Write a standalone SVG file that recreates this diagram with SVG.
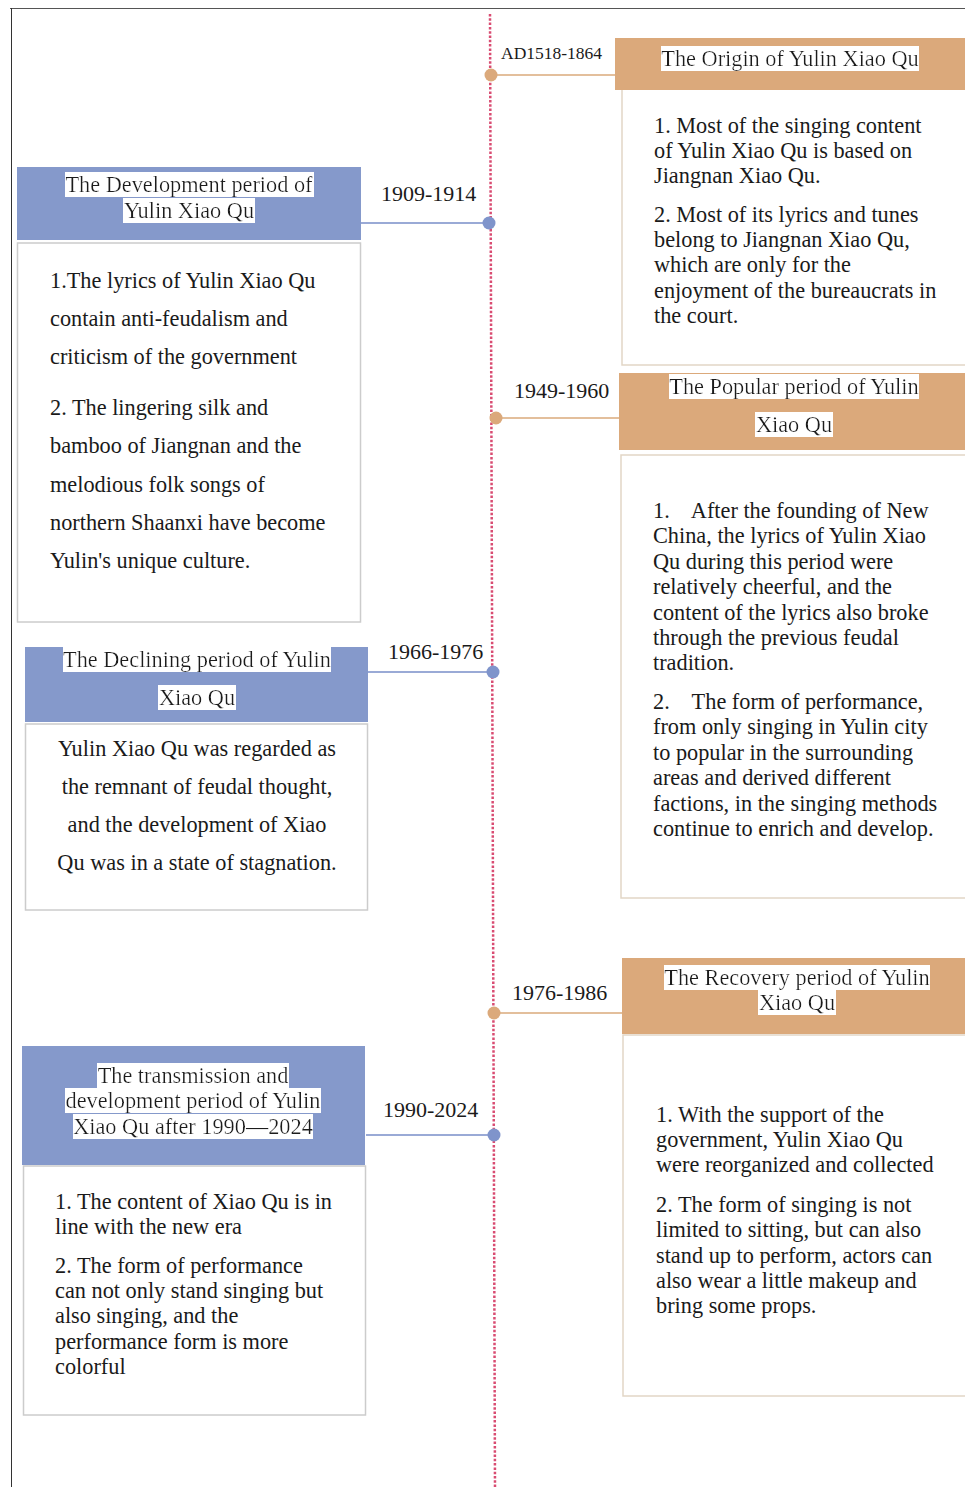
<svg xmlns="http://www.w3.org/2000/svg" width="965" height="1487" viewBox="0 0 965 1487">
<defs>
<filter id="wbg" x="0" y="0" width="1" height="1"><feFlood flood-color="#ffffff"/><feComposite in="SourceGraphic" operator="over"/></filter>
</defs>
<style>
text{font-family:"Liberation Serif","Times New Roman",serif;fill:#1a1a1a;font-size:22.3px}
.hd{text-anchor:middle;filter:url(#wbg)}
.c{text-anchor:middle}
.tan{fill:#DBA97B}
.blue{fill:#8599CB}
.bodyR{fill:#ffffff;stroke:#E2D6C6;stroke-width:1.5}
.bodyL{fill:#ffffff;stroke:#CCCCCC;stroke-width:1.5}
.lnT{stroke:#E3BF9C;stroke-width:2;fill:none}
.lnB{stroke:#9AAAD6;stroke-width:2;fill:none}
.dotT{fill:#DBA97B}
.dotB{fill:#7F94CB}
.date{font-size:22px}
</style>
<rect x="0" y="0" width="965" height="1487" fill="#ffffff"/>
<g id="frame">
<line x1="10" y1="8.5" x2="965" y2="8.5" stroke="#555" stroke-width="1"/>
<line x1="11.5" y1="8" x2="11.5" y2="1487" stroke="#333" stroke-width="1"/>
</g>
<g id="connectors">
<line x1="490" y1="14" x2="495" y2="1487" stroke="#D94C72" stroke-width="2.5" stroke-dasharray="2.5,1.8"/>
<line class="lnT" x1="491" y1="75" x2="615" y2="75"/>
<circle class="dotT" cx="491" cy="75" r="6.5"/>
<line class="lnB" x1="361" y1="223" x2="489" y2="223"/>
<circle class="dotB" cx="489" cy="223" r="6.5"/>
<line class="lnT" x1="496" y1="418" x2="619" y2="418"/>
<circle class="dotT" cx="496" cy="418" r="6.5"/>
<line class="lnB" x1="368" y1="672" x2="493" y2="672"/>
<circle class="dotB" cx="493" cy="672" r="6.5"/>
<line class="lnT" x1="494" y1="1013" x2="622" y2="1013"/>
<circle class="dotT" cx="494" cy="1013" r="6.5"/>
<line class="lnB" x1="366" y1="1135" x2="494" y2="1135"/>
<circle class="dotB" cx="494" cy="1135" r="6.5"/>
</g>
<g id="dates">
<text x="501" y="59" style="font-size:17.5px">AD1518-1864</text>
<text class="date" x="381" y="201">1909-1914</text>
<text class="date" x="514" y="398">1949-1960</text>
<text class="date" x="388" y="659">1966-1976</text>
<text class="date" x="512" y="1000">1976-1986</text>
<text class="date" x="383" y="1117">1990-2024</text>
</g>
<g id="origin">
<rect class="bodyR" x="622" y="88" width="350" height="277"/>
<rect class="tan" x="615" y="38" width="355" height="52"/>
<text class="hd" x="790" y="66">The Origin of Yulin Xiao Qu</text>
<text x="654" y="133">1. Most of the singing content</text>
<text x="654" y="158">of Yulin Xiao Qu is based on</text>
<text x="654" y="183">Jiangnan Xiao Qu.</text>
<text x="654" y="222">2. Most of its lyrics and tunes</text>
<text x="654" y="247">belong to Jiangnan Xiao Qu,</text>
<text x="654" y="272">which are only for the</text>
<text x="654" y="298">enjoyment of the bureaucrats in</text>
<text x="654" y="323">the court.</text>
</g>
<g id="development">
<rect class="blue" x="17" y="167" width="344" height="73"/>
<text class="hd" x="189" y="192">The Development period of</text>
<text class="hd" x="189" y="218">Yulin Xiao Qu</text>
<rect class="bodyL" x="17.5" y="243" width="343" height="379"/>
<text x="50" y="288">1.The lyrics of Yulin Xiao Qu</text>
<text x="50" y="326">contain anti-feudalism and</text>
<text x="50" y="364">criticism of the government</text>
<text x="50" y="415">2. The lingering silk and</text>
<text x="50" y="453">bamboo of Jiangnan and the</text>
<text x="50" y="492">melodious folk songs of</text>
<text x="50" y="530">northern Shaanxi have become</text>
<text x="50" y="568">Yulin's unique culture.</text>
</g>
<g id="popular">
<rect class="tan" x="619" y="373" width="351" height="77"/>
<text class="hd" x="794" y="394">The Popular period of Yulin</text>
<text class="hd" x="794" y="432">Xiao Qu</text>
<rect class="bodyR" x="621" y="455" width="350" height="443"/>
<text x="653" y="518" xml:space="preserve">1.    After the founding of New</text>
<text x="653" y="543">China, the lyrics of Yulin Xiao</text>
<text x="653" y="569">Qu during this period were</text>
<text x="653" y="594">relatively cheerful, and the</text>
<text x="653" y="620">content of the lyrics also broke</text>
<text x="653" y="645">through the previous feudal</text>
<text x="653" y="670">tradition.</text>
<text x="653" y="709" xml:space="preserve">2.    The form of performance,</text>
<text x="653" y="734">from only singing in Yulin city</text>
<text x="653" y="760">to popular in the surrounding</text>
<text x="653" y="785">areas and derived different</text>
<text x="653" y="811">factions, in the singing methods</text>
<text x="653" y="836">continue to enrich and develop.</text>
</g>
<g id="declining">
<rect class="blue" x="25" y="647" width="343" height="75"/>
<text class="hd" x="197" y="667">The Declining period of Yulin</text>
<text class="hd" x="197" y="705">Xiao Qu</text>
<rect class="bodyL" x="25.5" y="724" width="342" height="186"/>
<text class="c" x="197" y="756">Yulin Xiao Qu was regarded as</text>
<text class="c" x="197" y="794">the remnant of feudal thought,</text>
<text class="c" x="197" y="832">and the development of Xiao</text>
<text class="c" x="197" y="870">Qu was in a state of stagnation.</text>
</g>
<g id="recovery">
<rect class="tan" x="622" y="958" width="348" height="76"/>
<text class="hd" x="797" y="985">The Recovery period of Yulin</text>
<text class="hd" x="797" y="1010">Xiao Qu</text>
<rect class="bodyR" x="623" y="1035" width="348" height="361"/>
<text x="656" y="1122">1. With the support of the</text>
<text x="656" y="1147">government, Yulin Xiao Qu</text>
<text x="656" y="1172">were reorganized and collected</text>
<text x="656" y="1212">2. The form of singing is not</text>
<text x="656" y="1237">limited to sitting, but can also</text>
<text x="656" y="1263">stand up to perform, actors can</text>
<text x="656" y="1288">also wear a little makeup and</text>
<text x="656" y="1313">bring some props.</text>
</g>
<g id="transmission">
<rect class="blue" x="22" y="1046" width="343" height="119"/>
<text class="hd" x="193" y="1083">The transmission and</text>
<text class="hd" x="193" y="1108">development period of Yulin</text>
<text class="hd" x="193" y="1134">Xiao Qu after 1990—2024</text>
<rect class="bodyL" x="23.5" y="1166" width="342" height="249"/>
<text x="55" y="1209">1. The content of Xiao Qu is in</text>
<text x="55" y="1234">line with the new era</text>
<text x="55" y="1273">2. The form of performance</text>
<text x="55" y="1298">can not only stand singing but</text>
<text x="55" y="1323">also singing, and the</text>
<text x="55" y="1349">performance form is more</text>
<text x="55" y="1374">colorful</text>
</g>
</svg>
